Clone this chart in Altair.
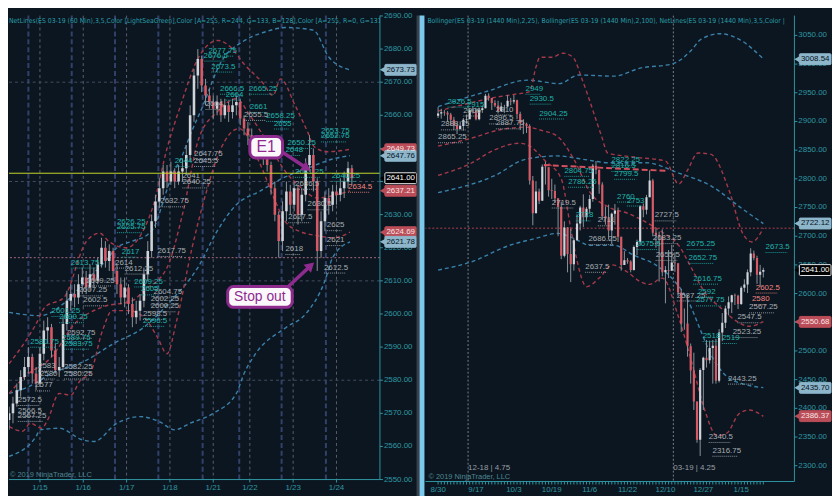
import altair as alt
import pandas as pd

# ---------------- colours / fonts ----------------
BG = "#0b1620"
AX = "#2f96a1"
TEAL = "#20B2AA"
GRAYT = "#a6acb2"
SALMON = "#F48580"
RED_B = "#a63949"
BLUE_B = "#3b80a9"
UP = "#cfd4da"
DN = "#d65b67"
WICK = "#8d939a"
PURPLE = "#8e2b8f"
FONT = "Liberation Sans"
NARROW = "Liberation Sans Narrow, Arial Narrow, DejaVu Sans Condensed, Liberation Sans"
KIND_COL = {"t": TEAL, "g": GRAYT, "s": SALMON}
TAG_STYLE = {
    "blue": ("#8db6cb", "#08131c", "#8db6cb"),
    "red": ("#bb4d58", "#f6e4e4", "#bb4d58"),
    "last": ("#000000", "#ffffff", "#e8e8e8"),
}

# ---------------- LEFT PANEL: ES 03-19 (60 Min) ----------------
L_HEADER = "NetLines(ES 03-19 (60 Min),3,5,Color [LightSeaGreen],Color [A=255, R=244, G=133, B=128],Color [A=255, R=0, G=131,"
L_OPEN0 = 2568
L_CLOSE = [2570, 2573, 2577, 2581, 2584, 2587, 2582, 2579, 2588, 2595,
           2596, 2589, 2583, 2584, 2597, 2604, 2606, 2605, 2609, 2611,
           2608, 2612, 2610, 2615, 2620, 2616, 2619, 2613, 2609, 2605,
           2608, 2603, 2599, 2601, 2604, 2612, 2619, 2628, 2634, 2638,
           2643, 2640, 2643, 2640, 2643, 2644, 2648, 2660, 2672, 2677,
           2669, 2666, 2664, 2662, 2664, 2660, 2663, 2661, 2663, 2664,
           2659, 2656, 2654, 2652, 2650, 2651, 2648, 2645, 2638, 2630,
           2622, 2631, 2637, 2633, 2638, 2630, 2636, 2645, 2648, 2640,
           2619, 2628, 2635, 2633, 2637, 2636, 2638, 2640, 2644, 2641]
L_HIGH = [2572, 2575, 2579, 2583, 2587, 2590, 2588, 2584, 2590, 2598,
          2599, 2597, 2591, 2587, 2599, 2607, 2609, 2609, 2612, 2614,
          2613, 2615, 2614, 2617, 2623, 2622, 2621, 2620, 2615, 2611,
          2611, 2609, 2605, 2604, 2606, 2614, 2622, 2630, 2636, 2641,
          2645, 2645, 2646, 2644, 2645, 2647, 2651, 2663, 2674, 2680,
          2678, 2671, 2668, 2666, 2666, 2665, 2665, 2664, 2665, 2666,
          2665, 2660, 2658, 2656, 2654, 2653, 2652, 2649, 2646, 2640,
          2631, 2634, 2640, 2639, 2640, 2639, 2638, 2647, 2654, 2650,
          2641, 2631, 2637, 2638, 2639, 2639, 2641, 2643, 2646, 2645]
L_LOW = [2565, 2567, 2572, 2575, 2580, 2582, 2579, 2577, 2578, 2586,
         2591, 2587, 2582, 2581, 2583, 2595, 2601, 2602, 2603, 2606,
         2606, 2607, 2608, 2609, 2614, 2614, 2613, 2610, 2606, 2603,
         2602, 2600, 2596, 2597, 2598, 2602, 2610, 2617, 2626, 2632,
         2636, 2638, 2639, 2638, 2639, 2640, 2642, 2646, 2658, 2668,
         2667, 2663, 2662, 2659, 2660, 2658, 2659, 2658, 2659, 2660,
         2657, 2654, 2651, 2650, 2648, 2647, 2645, 2643, 2636, 2628,
         2617, 2619, 2628, 2630, 2631, 2627, 2628, 2634, 2643, 2637,
         2613, 2617, 2625, 2630, 2631, 2633, 2634, 2635, 2638, 2639]

L_DAY_IDX = [8, 19.25, 30.5, 41.75, 53, 62.5, 73.75, 85]
L_DAY_NAMES = ["1/15", "1/16", "1/17", "1/18", "1/21", "1/22", "1/23", "1/24"]
L_SESSION_IDX = [5, 16.25, 27.5, 38.75, 50.25, 59.75, 70.75, 82.25]
L_GRID = [2580, 2610, 2640, 2670]
L_YTICKS = list(range(2550, 2691, 10))

L_BLUE_UP = [(0, 2600.5), (8, 2599.5), (10, 2600), (15, 2604), (20, 2610), (25, 2616), (28, 2620),
             (32, 2622), (36, 2624), (38, 2627), (40, 2634), (42, 2641), (45, 2648), (47, 2654),
             (50, 2662), (55, 2676), (61, 2682.5), (66, 2685), (72, 2686.5), (79, 2685.7),
             (83, 2677.6), (88.5, 2673.7)]
L_BLUE_MID = [(0, 2576), (5, 2578), (11, 2582), (20, 2586), (27, 2591), (35, 2596), (42, 2604),
              (49, 2614), (54, 2625), (59, 2633), (65, 2637), (71, 2641), (77.5, 2644),
              (84, 2646.8), (88.5, 2647.8)]
L_BLUE_LOW = [(0, 2557), (7, 2563), (8, 2565), (13, 2565.5), (19, 2562), (22, 2561.5), (28, 2567),
              (34, 2569), (39, 2567.5), (43, 2565), (47, 2567), (53, 2570), (59, 2576), (61, 2582),
              (64, 2588), (72, 2596), (77, 2600), (82, 2610), (84, 2617), (88.5, 2621.8)]
L_RED_UP = [(0, 2585), (7, 2597), (9.25, 2602), (14.25, 2605), (20, 2621.8), (23.5, 2624.4),
            (26, 2621.8), (30.5, 2620), (34.25, 2624), (37.5, 2633), (41, 2650), (44.25, 2662),
            (49.25, 2677.6), (54.25, 2682.6), (57.5, 2680.6), (61, 2675.5), (66, 2669.6),
            (68.5, 2666), (70.5, 2671), (74.25, 2663), (77.5, 2655), (79.25, 2650.5),
            (82.5, 2649), (88.5, 2649.7)]
L_RED_MID = [(0, 2576), (4, 2581), (11, 2587), (17, 2597), (24, 2602), (32, 2604), (35, 2607),
             (41, 2614), (45, 2630), (49.25, 2653), (54, 2661), (59, 2665), (62.5, 2660),
             (67.5, 2651), (71.75, 2643), (76, 2638), (80, 2635), (84, 2635.7), (88.5, 2637.2)]
L_RED_LOW = [(0, 2566), (3.5, 2564.6), (5.5, 2567), (8.5, 2565.5), (10, 2568), (13, 2576),
             (16, 2575.5), (18.5, 2580), (21, 2582), (24.25, 2595), (26.75, 2601), (31, 2601),
             (35, 2599), (38.5, 2593), (41, 2588), (43.5, 2598), (47.5, 2620), (51, 2636),
             (55, 2650), (59.75, 2656), (65, 2645.7), (69.25, 2633.7), (71.75, 2627.8),
             (76, 2624.7), (79.25, 2623.8), (84.25, 2623), (88.5, 2624.7)]

L_LABELS = [
    ("2677.75", 51.75, 2679.5, "t"), ("2676.5", 50.5, 2678.0, "t"), ("2673.5", 52.5, 2674.7, "t"),
    ("2666.5", 54.75, 2668.0, "t"), ("2665.25", 62.25, 2668.0, "t"), ("2664", 56.25, 2666.2, "t"),
    ("2664", 51, 2663.4, "g"), ("2661", 62.5, 2662.5, "t"), ("2655.5", 61, 2660.1, "g"),
    ("2658.25", 66.75, 2659.8, "t"), ("2655", 68.75, 2657.5, "t"), ("2653.75", 81, 2655.4, "t"),
    ("2652.75", 81, 2653.6, "t"), ("2650.25", 72.25, 2651.6, "t"), ("2648", 71.75, 2649.5, "t"),
    ("2641.25", 74.25, 2642.9, "t"), ("2640.25", 83.75, 2641.7, "t"), ("2636.5", 74.25, 2639.3, "g"),
    ("2630.5", 77.5, 2633.1, "g"), ("2627.5", 72.5, 2629.2, "g"), ("2625", 82.5, 2626.8, "g"),
    ("2621", 82.5, 2622.3, "g"), ("2618", 71.75, 2619.6, "g"), ("2612.5", 81.75, 2614.0, "g"),
    ("2634.5", 88, 2638.4, "s"), ("2647.75", 48, 2648.3, "g"), ("2645.5", 48, 2646.2, "g"),
    ("2641", 45, 2641.7, "g"), ("2640.25", 45, 2639.7, "g"), ("2644", 43, 2646.2, "t"),
    ("2632.75", 39.25, 2634.0, "g"), ("2617.75", 38.5, 2619.0, "g"), ("2626.25", 28, 2627.7, "t"),
    ("2625.75", 28, 2626.2, "t"), ("2617", 29.25, 2618.8, "t"), ("2613.75", 16, 2615.5, "t"),
    ("2614", 27.5, 2615.5, "g"), ("2612.25", 30, 2613.7, "g"), ("2609.25", 20, 2610.1, "g"),
    ("2607.25", 18, 2607.1, "g"), ("2602.5", 19.25, 2604.1, "g"), ("2604.75", 37.5, 2606.5, "g"),
    ("2602.25", 36.75, 2604.4, "g"), ("2600.25", 36.75, 2602.3, "g"), ("2598.5", 34.75, 2600.0, "g"),
    ("2596.5", 34.75, 2597.9, "t"), ("2609.25", 32.5, 2609.8, "t"), ("2605", 34.25, 2607.4, "t"),
    ("2601.25", 11, 2600.9, "t"), ("2600.25", 13, 2599.0, "t"), ("2592.75", 15, 2594.3, "g"),
    ("2589.75", 13.75, 2592.8, "t"), ("2583.75", 14.25, 2591.0, "t"), ("2580.75", 5.5, 2591.6, "t"),
    ("2583", 7.5, 2584.4, "g"), ("2580", 8, 2582.0, "g"), ("2577", 6.75, 2578.4, "g"),
    ("2582.25", 14.25, 2584.1, "g"), ("2580.25", 14.25, 2582.0, "g"), ("2572.5", 2.25, 2574.0, "g"),
    ("2566.5", 2.25, 2570.7, "g"), ("2567.25", 2.25, 2569.2, "g"),
]
L_TAG_PRICE = [2673.73, 2649.73, 2647.76, 2641.00, 2637.21, 2624.69, 2621.78]
L_TAG_KIND = ["blue", "red", "blue", "last", "red", "red", "blue"]
L_YELLOW = 2642.5
L_PINK = 2617
L_BOXES = [
    {"x0": 62.5, "x1": 71.0, "y0": 2647.1, "y1": 2653.6, "t": "E1", "tx": 66.75, "ty": 2650.35, "fs": 16},
    {"x0": 56.75, "x1": 73.5, "y0": 2602.0, "y1": 2608.3, "t": "Stop out", "tx": 65.1, "ty": 2605.15, "fs": 14},
]
L_ARROWS = [
    {"a0": 70.5, "a1": 77.3, "b0": 2649.2, "b1": 2644.0, "ang": 123},
    {"a0": 72.5, "a1": 78.3, "b0": 2608.3, "b1": 2614.6, "ang": 47},
]

# ---------------- RIGHT PANEL: ES 03-19 (1440 Min) ----------------
R_HEADER = "Bollinger(ES 03-19 (1440 Min),2,25), Bollinger(ES 03-19 (1440 Min),2,100), NetLines(ES 03-19 (1440 Min),3,5,Color |"
R_OPEN0 = 2910
R_CLOSE = [2914, 2916, 2915, 2912, 2903, 2893, 2887, 2892, 2903, 2904,
           2920, 2920, 2904, 2920, 2923, 2945, 2941, 2932, 2928, 2918,
           2926, 2926, 2936, 2935, 2937, 2913, 2897, 2896, 2892, 2797,
           2740, 2778, 2762, 2821, 2820, 2780, 2779, 2766, 2751, 2666,
           2715, 2669, 2651, 2693, 2722, 2750, 2733, 2748, 2765, 2823,
           2816, 2790, 2735, 2731, 2710, 2739, 2745, 2699, 2650, 2658,
           2656, 2641, 2681, 2690, 2752, 2746, 2768, 2797, 2706, 2702,
           2700, 2637, 2641, 2640, 2654, 2653, 2602, 2548, 2548, 2508,
           2466, 2412, 2345, 2467, 2488, 2484, 2505, 2509, 2448, 2532,
           2549, 2574, 2585, 2597, 2596, 2582, 2610, 2616, 2637, 2670,
           2662, 2633, 2638, 2641]
R_HIGH = [2925, 2922, 2920, 2918, 2915, 2908, 2898, 2900, 2906, 2912,
          2923, 2926, 2924, 2924, 2928, 2948, 2949, 2941, 2937, 2936,
          2933, 2929, 2946, 2941, 2946, 2938, 2917, 2904, 2898, 2895,
          2805, 2796, 2783, 2825, 2830, 2820, 2800, 2790, 2764, 2760,
          2726, 2716, 2713, 2696, 2738, 2753, 2773, 2751, 2772, 2826,
          2831, 2815, 2794, 2752, 2755, 2741, 2756, 2750, 2690, 2674,
          2662, 2658, 2684, 2694, 2754, 2757, 2772, 2815, 2800, 2713,
          2708, 2712, 2648, 2676, 2685, 2672, 2650, 2608, 2574, 2598,
          2513, 2497, 2412, 2470, 2490, 2519, 2518, 2519, 2521, 2538,
          2566, 2579, 2595, 2598, 2600, 2598, 2613, 2625, 2642, 2679,
          2675, 2666, 2650, 2645]
R_LOW = [2906, 2905, 2910, 2899, 2893, 2885, 2878, 2886, 2884, 2896,
         2905, 2914, 2902, 2902, 2915, 2924, 2936, 2920, 2925, 2914,
         2917, 2915, 2925, 2928, 2931, 2904, 2885, 2878, 2880, 2790,
         2719, 2747, 2756, 2762, 2790, 2769, 2765, 2758, 2700, 2660,
         2663, 2637, 2620, 2640, 2693, 2710, 2716, 2726, 2740, 2760,
         2808, 2774, 2728, 2720, 2694, 2686, 2720, 2690, 2640, 2650,
         2652, 2637, 2640, 2667, 2684, 2733, 2738, 2780, 2700, 2680,
         2621, 2630, 2583, 2627, 2650, 2638, 2596, 2533, 2537, 2490,
         2443, 2397, 2340, 2317, 2397, 2471, 2478, 2443, 2443, 2445,
         2517, 2540, 2562, 2566, 2580, 2573, 2580, 2603, 2601, 2630,
         2658, 2617, 2612, 2628]

R_LAB_IDX = [0, 12, 24, 36, 48, 60, 72, 84, 96]
R_LAB_NAMES = ["8/30", "9/17", "10/3", "10/19", "11/6", "11/22", "12/10", "12/27", "1/15"]
R_ROLL_IDX = [9.5, 74.5]
R_ROLL_TEXT = ["12-18 | 4.75", "03-19 | 4.25"]
R_ROLL_PRICE = 2296.6
R_YTICKS = list(range(2300, 3051, 50))

R_BLUE_UP = [(0, 2926), (15.2, 2952), (28.4, 2972), (38.4, 2966), (44.5, 2981), (55.8, 2979),
             (64, 2993), (74, 3000), (80.2, 3024), (83.2, 3043), (89.3, 3053), (95.4, 3043), (103, 3009)]
R_BLUE_MID = [(0, 2776), (17.7, 2805), (27.7, 2834), (37.8, 2840), (46, 2834), (54.3, 2828),
              (65.9, 2828), (76.2, 2810), (86.3, 2788), (96.3, 2748), (103, 2722)]
R_BLUE_LOW = [(0, 2641), (10.4, 2655), (22.6, 2684), (30.8, 2696), (37.8, 2705), (43, 2696),
              (48.2, 2684), (55.8, 2684), (61.9, 2667), (68.9, 2650), (74, 2627), (79.3, 2586),
              (83.2, 2535), (86.3, 2495), (91.5, 2455), (96.3, 2443), (103, 2436)]
R_RED_UP = [(0, 2918), (10, 2932), (18, 2942), (25, 2948), (29, 2952), (31, 2995), (32.3, 3012),
            (36, 3012), (39.6, 3019), (42.7, 3012), (45.7, 2972), (51.8, 2874), (53.7, 2845),
            (62, 2838), (72, 2831), (76.2, 2791), (79, 2815), (82.3, 2845), (86.3, 2843),
            (92.4, 2776), (96.3, 2707), (99.4, 2690), (103, 2714)]
R_RED_MID = [(0, 2857), (10, 2870), (20, 2886), (28, 2890), (33, 2884), (37.8, 2874), (43, 2834),
             (48.2, 2776), (54.3, 2750), (60, 2740), (66, 2724), (71, 2707), (76.2, 2684),
             (80.2, 2645), (84.1, 2605), (89.3, 2576), (94.5, 2552), (98.5, 2543), (103, 2551)]
R_RED_LOW = [(0, 2806), (10, 2826), (17.7, 2850), (25.6, 2862), (28.7, 2858), (33.8, 2832),
             (39, 2800), (42, 2714), (43.9, 2660), (47, 2612), (51.2, 2628), (55.2, 2650),
             (59.8, 2638), (64, 2621), (67, 2616), (71, 2627), (76.2, 2558), (80.2, 2483),
             (84.1, 2403), (88.4, 2352), (91.5, 2357), (95.4, 2391), (98.5, 2397), (103, 2386)]

R_LABELS = [
    ("2949", 27.7, 2956.9, "t"), ("2930.5", 29, 2939.7, "t"), ("2904.25", 32, 2913.8, "t"),
    ("2926.5", 3, 2934.5, "t"), ("2915", 9.1, 2929.3, "t"), ("2906", 8, 2919.0, "g"),
    ("2910", 18.3, 2920.7, "g"), ("2888.75", 0.9, 2894.8, "g"), ("2896.5", 16.2, 2905.2, "g"),
    ("2887.75", 18.3, 2896.6, "g"), ("2865.25", 0, 2872.4, "g"), ("2804.75", 40, 2813.8, "t"),
    ("2786.25", 41.2, 2794.8, "t"), ("2719.5", 36, 2758.6, "g"), ("2799.5", 55.8, 2808.6, "t"),
    ("2822.25", 54.9, 2832.8, "t"), ("2816.5", 54.9, 2822.4, "t"), ("2760", 56.7, 2769.0, "t"),
    ("2753", 59.8, 2762.1, "t"), ("2727.5", 68.6, 2736.2, "g"), ("2728", 43.6, 2736.2, "t"),
    ("2711", 50.6, 2727.6, "g"), ("2686.25", 47.6, 2694.8, "g"), ("2675.5", 62.8, 2686.2, "t"),
    ("2683.25", 68, 2696.6, "g"), ("2675.25", 78.7, 2686.2, "t"), ("2673.5", 103.7, 2681.0, "t"),
    ("2637.5", 46.6, 2646.6, "g"), ("2655.5", 68.9, 2667.3, "g"), ("2652.75", 79.3, 2662.1, "t"),
    ("2616.75", 80.8, 2625.9, "t"), ("2587.25", 75.6, 2596.6, "g"), ("2592", 82.3, 2603.5, "t"),
    ("2577.75", 81.7, 2588.0, "t"), ("2602.5", 100.6, 2610.4, "s"), ("2580", 99.4, 2589.7, "s"),
    ("2567.25", 98.5, 2575.9, "g"), ("2547.5", 94.8, 2558.6, "g"), ("2523.25", 93.3, 2532.8, "g"),
    ("2518", 83.8, 2525.9, "t"), ("2519", 89.9, 2522.4, "t"), ("2443.25", 91.8, 2451.7, "g"),
    ("2340.5", 85.7, 2350.0, "g"), ("2316.75", 86.9, 2325.9, "g"),
]
R_TAG_PRICE = [3008.54, 2722.12, 2641.00, 2550.68, 2435.70, 2386.37]
R_TAG_KIND = ["blue", "blue", "last", "red", "blue", "red"]
R_HLINE = 2714
R_TREND = {"a0": 33.5, "a1": 72.0, "b0": 2824.0, "b1": 2814.0}

COPYRIGHT = "\u00a9 2019 NinjaTrader, LLC"

# ---------------- geometry ----------------
W1, H1 = 375, 469
LXD = [1.25, 95.0]
LYD = [2550.0, 2690.1]
W2, H2 = 373, 471
RXD = [-2.44, 111.28]
RYD = [2272.4, 3084.5]


# ---------------- helpers that shape the lists into tables ----------------
def candle_table(open0, closes, highs, lows):
    rows, prev = [], open0
    for i, (c, h, l) in enumerate(zip(closes, highs, lows)):
        rows.append({"idx": i, "o": prev, "c": c, "h": max(h, prev, c), "l": min(l, prev, c),
                     "col": UP if c >= prev else DN})
        prev = c
    return pd.DataFrame(rows)


def band_table(series):
    rows = []
    for name, col, pts in series:
        for i, p in pts:
            rows.append({"s": name, "col": col, "idx": i, "p": p})
    return pd.DataFrame(rows)


def label_table(items, upp, ppi):
    rows = []
    for t, i, p, k in items:
        rows.append({"t": t, "idx": i, "p": p, "col": KIND_COL[k],
                     "idx2": i + len(t) * 3.8 / ppi, "up": p - 5.5 * upp})
    return pd.DataFrame(rows)


def tag_table(prices, kinds, upp):
    rows = []
    for p, k in zip(prices, kinds):
        bg, fg, st = TAG_STYLE[k]
        rows.append({"p": p, "lo": p - 5.5 * upp, "hi": p + 5.5 * upp, "t": f"{p:.2f}",
                     "bg": bg, "fg": fg, "st": st})
    return pd.DataFrame(rows)


def build_panel(W, H, xd, yd, cdf, bdf, ldf, tdf, yticks, xticks, xlab_idx, xlab_names,
                bar_size, extra_back, extra_front, header, hx):
    xs = alt.Scale(domain=xd, nice=False, zero=False)
    ys = alt.Scale(domain=yd, nice=False, zero=False)

    def X(f):
        return alt.X(f, scale=xs, axis=None, title=None)

    def Y(f):
        return alt.Y(f, scale=ys, axis=None, title=None)

    layers = [lay(X, Y) for lay in extra_back]

    # price bands
    layers.append(alt.Chart(bdf).mark_line(strokeDash=[4, 3], strokeWidth=1.4, interpolate="monotone", clip=True)
                  .encode(x=X("idx:Q"), y=Y("p:Q"), color=alt.Color("col:N", scale=None),
                          detail="s:N", order="idx:Q"))
    # candles
    layers.append(alt.Chart(cdf).mark_rule(color=WICK, strokeWidth=1, clip=True)
                  .encode(x=X("idx:Q"), y=Y("l:Q"), y2="h:Q"))
    layers.append(alt.Chart(cdf).mark_bar(size=bar_size, clip=True)
                  .encode(x=X("idx:Q"), y=Y("o:Q"), y2="c:Q", color=alt.Color("col:N", scale=None)))
    # level labels with dotted underline
    layers.append(alt.Chart(ldf).mark_rule(strokeDash=[1, 1], strokeWidth=1, opacity=0.85, clip=True)
                  .encode(x=X("idx:Q"), x2="idx2:Q", y=Y("up:Q"), color=alt.Color("col:N", scale=None)))
    layers.append(alt.Chart(ldf).mark_text(align="left", baseline="middle", fontSize=8, font=FONT, clip=True)
                  .encode(x=X("idx:Q"), y=Y("p:Q"), text="t:N", color=alt.Color("col:N", scale=None)))

    layers += [lay(X, Y) for lay in extra_front]

    # hand-made axes (right price axis, bottom date axis)
    ytab = pd.DataFrame({"v": yticks, "t": [f"{v:.2f}" for v in yticks]})
    xtab = pd.DataFrame({"v": xticks})
    xlab = pd.DataFrame({"v": xlab_idx, "t": xlab_names})
    one = pd.DataFrame({"k": [0]})
    layers.append(alt.Chart(one).mark_rule(color=AX, strokeWidth=1)
                  .encode(x=alt.value(W), y=alt.value(0), y2=alt.value(H)))
    layers.append(alt.Chart(one).mark_rule(color=AX, strokeWidth=1)
                  .encode(x=alt.value(0), x2=alt.value(W), y=alt.value(H)))
    layers.append(alt.Chart(ytab).mark_rule(color=AX, strokeWidth=1)
                  .encode(y=Y("v:Q"), x=alt.value(W), x2=alt.value(W + 3)))
    layers.append(alt.Chart(ytab).mark_text(align="left", baseline="middle", fontSize=8, font=FONT, color=AX)
                  .encode(y=Y("v:Q"), x=alt.value(W + 4), text="t:N"))
    layers.append(alt.Chart(xtab).mark_rule(color=AX, strokeWidth=1)
                  .encode(x=X("v:Q"), y=alt.value(H), y2=alt.value(H + 3)))
    layers.append(alt.Chart(xlab).mark_text(align="center", baseline="middle", fontSize=8, font=FONT, color=AX)
                  .encode(x=X("v:Q"), y=alt.value(H + 9), text="t:N"))

    # price tags on the right axis
    layers.append(alt.Chart(tdf).mark_point(shape="triangle-left", filled=True, size=36, opacity=1, strokeWidth=0)
                  .encode(x=alt.value(W + 2.5), y=Y("p:Q"), fill=alt.Fill("bg:N", scale=None)))
    layers.append(alt.Chart(tdf).mark_rect(cornerRadius=1, strokeWidth=1)
                  .encode(x=alt.value(W + 5), x2=alt.value(W + 37), y=Y("lo:Q"), y2="hi:Q",
                          fill=alt.Fill("bg:N", scale=None), stroke=alt.Stroke("st:N", scale=None)))
    layers.append(alt.Chart(tdf).mark_text(align="center", baseline="middle", fontSize=8, font=FONT)
                  .encode(x=alt.value(W + 21), y=Y("p:Q"), text="t:N", color=alt.Color("fg:N", scale=None)))

    # header and copyright
    layers.append(alt.Chart(pd.DataFrame({"t": [header]}))
                  .mark_text(align="left", baseline="top", fontSize=6.9, font=NARROW, color="#2a9ea8", clip=True)
                  .encode(x=alt.value(hx), y=alt.value(2), text="t:N"))
    layers.append(alt.Chart(pd.DataFrame({"t": [COPYRIGHT]}))
                  .mark_text(align="left", baseline="bottom", fontSize=7.5, font=FONT, color="#4f8791")
                  .encode(x=alt.value(hx + 1), y=alt.value(H - 1), text="t:N"))

    return alt.layer(*layers).properties(width=W, height=H)


# ---------------- left panel ----------------
upp_L = (LYD[1] - LYD[0]) / H1
ppi_L = W1 / (LXD[1] - LXD[0])
l_candles = candle_table(L_OPEN0, L_CLOSE, L_HIGH, L_LOW)
l_bands = band_table([("bu", BLUE_B, L_BLUE_UP), ("bm", BLUE_B, L_BLUE_MID), ("bl", BLUE_B, L_BLUE_LOW),
                      ("ru", RED_B, L_RED_UP), ("rm", RED_B, L_RED_MID), ("rl", RED_B, L_RED_LOW)])
l_labels = label_table(L_LABELS, upp_L, ppi_L)
l_tags = tag_table(L_TAG_PRICE, L_TAG_KIND, upp_L)
l_boxes = pd.DataFrame(L_BOXES)
l_arrows = pd.DataFrame(L_ARROWS)

left_back = [
    lambda X, Y: alt.Chart(pd.DataFrame({"idx": L_SESSION_IDX})).mark_rule(color="#33416a", strokeWidth=2, strokeDash=[5, 3]).encode(x=X("idx:Q")),
    lambda X, Y: alt.Chart(pd.DataFrame({"idx": L_DAY_IDX})).mark_rule(color="#5c5d70", strokeWidth=1, strokeDash=[3, 3]).encode(x=X("idx:Q")),
    lambda X, Y: alt.Chart(pd.DataFrame({"p": L_GRID})).mark_rule(color="#474c5f", strokeWidth=1, strokeDash=[3, 3]).encode(y=Y("p:Q")),
    lambda X, Y: alt.Chart(pd.DataFrame({"p": [L_PINK]})).mark_rule(color="#a86a7c", strokeWidth=1, strokeDash=[2, 2]).encode(y=Y("p:Q")),
]
left_front = [
    lambda X, Y: alt.Chart(pd.DataFrame({"p": [L_YELLOW]})).mark_rule(color="#c4d62c", strokeWidth=1).encode(y=Y("p:Q")),
    lambda X, Y: alt.Chart(l_arrows).mark_rule(color=PURPLE, strokeWidth=3.5, strokeCap="round").encode(x=X("a0:Q"), x2="a1:Q", y=Y("b0:Q"), y2="b1:Q"),
    lambda X, Y: alt.Chart(l_arrows).mark_point(shape="triangle-up", filled=True, size=120, opacity=1, color=PURPLE, strokeWidth=0).encode(x=X("a1:Q"), y=Y("b1:Q"), angle=alt.Angle("ang:Q", scale=None)),
    lambda X, Y: alt.Chart(l_boxes).mark_rect(fill="#fbf8fb", stroke=PURPLE, strokeWidth=3, cornerRadius=6).encode(x=X("x0:Q"), x2="x1:Q", y=Y("y0:Q"), y2="y1:Q"),
    lambda X, Y: alt.Chart(l_boxes).mark_text(align="center", baseline="middle", font=FONT, color=PURPLE).encode(x=X("tx:Q"), y=Y("ty:Q"), text="t:N", size=alt.Size("fs:Q", scale=None)),
]

left = build_panel(W1, H1, LXD, LYD, l_candles, l_bands, l_labels, l_tags, L_YTICKS, L_DAY_IDX,
                   L_DAY_IDX, L_DAY_NAMES, 2.6, left_back, left_front, L_HEADER, 0)

# ---------------- right panel ----------------
upp_R = (RYD[1] - RYD[0]) / H2
ppi_R = W2 / (RXD[1] - RXD[0])
r_candles = candle_table(R_OPEN0, R_CLOSE, R_HIGH, R_LOW)
r_bands = band_table([("bu", BLUE_B, R_BLUE_UP), ("bm", BLUE_B, R_BLUE_MID), ("bl", BLUE_B, R_BLUE_LOW),
                      ("ru", RED_B, R_RED_UP), ("rm", RED_B, R_RED_MID), ("rl", RED_B, R_RED_LOW)])
r_labels = label_table(R_LABELS, upp_R, ppi_R)
r_tags = tag_table(R_TAG_PRICE, R_TAG_KIND, upp_R)
r_roll = pd.DataFrame({"idx": R_ROLL_IDX, "t": R_ROLL_TEXT, "p": [R_ROLL_PRICE] * len(R_ROLL_IDX)})
r_trend = pd.DataFrame([R_TREND])

right_back = [
    lambda X, Y: alt.Chart(pd.DataFrame({"k": [0]})).mark_rect(color="#3a4149").encode(x=alt.value(-9), x2=alt.value(-6), y=alt.value(0), y2=alt.value(H2 + 17)),
    lambda X, Y: alt.Chart(pd.DataFrame({"k": [0]})).mark_rect(color="#7cc9ee").encode(x=alt.value(-6), x2=alt.value(-1), y=alt.value(0), y2=alt.value(H2 + 17)),
    lambda X, Y: alt.Chart(r_roll).mark_rule(color="#7b7f86", strokeWidth=1, strokeDash=[2, 2]).encode(x=X("idx:Q")),
    lambda X, Y: alt.Chart(pd.DataFrame({"p": [R_HLINE]})).mark_rule(color="#b3404f", strokeWidth=1, strokeDash=[2, 2]).encode(y=Y("p:Q")),
]
right_front = [
    lambda X, Y: alt.Chart(r_trend).mark_rule(color="#d5515f", strokeWidth=2, strokeDash=[6, 3]).encode(x=X("a0:Q"), x2="a1:Q", y=Y("b0:Q"), y2="b1:Q"),
    lambda X, Y: alt.Chart(r_roll).mark_text(align="left", baseline="middle", fontSize=8, font=FONT, color="#9a9ea4").encode(x=X("idx:Q"), y=Y("p:Q"), text="t:N"),
]

right = build_panel(W2, H2, RXD, RYD, r_candles, r_bands, r_labels, r_tags, R_YTICKS,
                    list(range(len(R_CLOSE))), R_LAB_IDX, R_LAB_NAMES, 2.2,
                    right_back, right_front, R_HEADER, 2)

chart = (
    alt.hconcat(left, right, spacing=46, bounds="flush")
    .configure(background=BG, padding=0, font=FONT)
    .configure_view(fill=BG, stroke="transparent")
)

chart.save("out.html", embed_options={"renderer": "svg", "actions": False})
